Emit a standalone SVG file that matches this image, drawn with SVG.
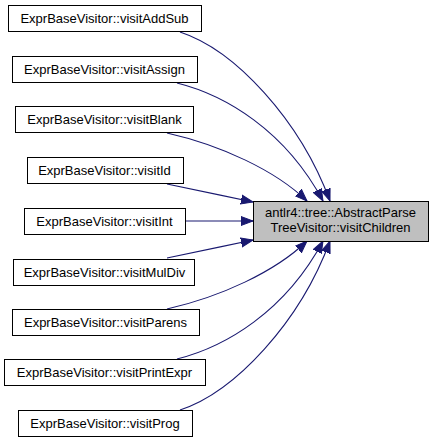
<svg xmlns="http://www.w3.org/2000/svg" width="433" height="443" viewBox="0 0 433 443">
<style>
.n rect{fill:#ffffff;stroke:#000000;stroke-width:1}
.t rect{fill:#bfbfbf;stroke:#000000;stroke-width:1}
text{font-family:"Liberation Sans",Arial,sans-serif;font-size:13px;text-anchor:middle;fill:#000000}
.e path{fill:none;stroke:#191970;stroke-width:1.1;marker-end:url(#ah)}
</style>
<defs>
<marker id="ah" markerUnits="userSpaceOnUse" markerWidth="14" markerHeight="12" viewBox="0 -6 14 12" refX="12" refY="0" orient="auto">
<path d="M0,-4.5 L12,0 L0,4.5 Z" fill="#191970" stroke="#191970" stroke-width="1"/>
</marker>
</defs>
<rect x="0" y="0" width="433" height="443" fill="#ffffff"/>
<g id="connectors" class="e">
<path d="M180,32 C235,50 300,120 330,201"/>
<path d="M177,83 C225,95 285,130 323,201"/>
<path d="M167,133 C220,145 275,170 307,201"/>
<path d="M167,184 C190,189 225,196 253,202"/>
<path d="M185,221 L253,221"/>
<path d="M167,258 C190,253 225,246 253,240"/>
<path d="M167,309 C220,297 275,272 307,241"/>
<path d="M177,359 C225,347 285,312 323,241"/>
<path d="M180,410 C235,392 300,322 330,241"/>
</g>
<g id="target" class="t">
<rect x="253.5" y="201.5" width="175" height="40"/>
<text x="340.5" y="217">antlr4::tree::AbstractParse</text>
<text x="340.5" y="232">TreeVisitor::visitChildren</text>
</g>
<g id="n_addsub" class="n">
<rect x="8.5" y="5.5" width="193" height="26"/>
<text x="104.5" y="23">ExprBaseVisitor::visitAddSub</text>
</g>
<g id="n_assign" class="n">
<rect x="12.5" y="56.5" width="185" height="26"/>
<text x="104.5" y="74">ExprBaseVisitor::visitAssign</text>
</g>
<g id="n_blank" class="n">
<rect x="15.5" y="106.5" width="178" height="26"/>
<text x="104.5" y="124">ExprBaseVisitor::visitBlank</text>
</g>
<g id="n_id" class="n">
<rect x="27.5" y="157.5" width="156" height="26"/>
<text x="104.5" y="175">ExprBaseVisitor::visitId</text>
</g>
<g id="n_int" class="n">
<rect x="24.5" y="208.5" width="161" height="26"/>
<text x="104.5" y="226">ExprBaseVisitor::visitInt</text>
</g>
<g id="n_muldiv" class="n">
<rect x="13.5" y="259.5" width="181" height="26"/>
<text x="104.5" y="277">ExprBaseVisitor::visitMulDiv</text>
</g>
<g id="n_parens" class="n">
<rect x="12.5" y="309.5" width="187" height="26"/>
<text x="105.5" y="327">ExprBaseVisitor::visitParens</text>
</g>
<g id="n_printexpr" class="n">
<rect x="4.5" y="359.5" width="201" height="26"/>
<text x="104.5" y="377">ExprBaseVisitor::visitPrintExpr</text>
</g>
<g id="n_prog" class="n">
<rect x="18.5" y="410.5" width="174" height="26"/>
<text x="105" y="428">ExprBaseVisitor::visitProg</text>
</g>
</svg>
